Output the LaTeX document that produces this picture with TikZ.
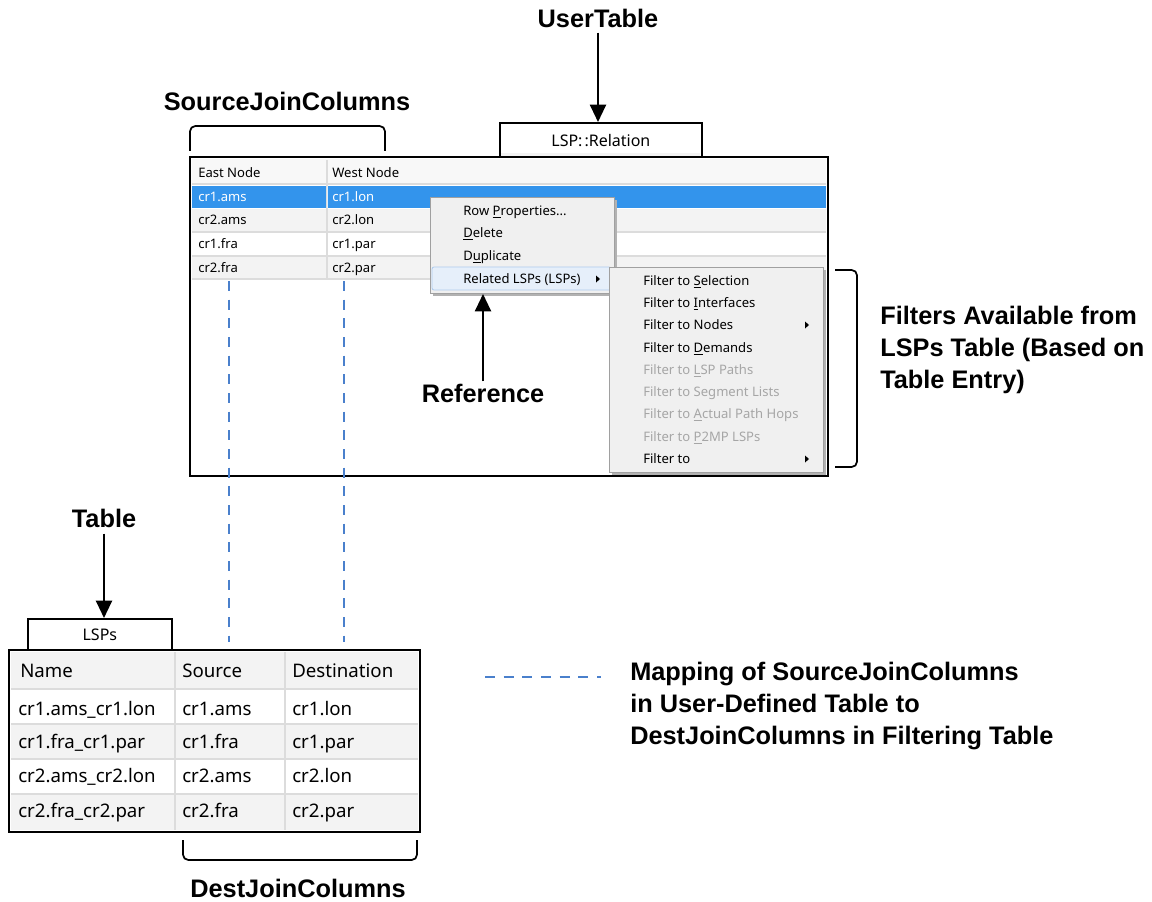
\documentclass[tikz,border=0pt]{standalone}
\usepackage{fontspec}
\setmainfont{Liberation Sans}
\newfontfamily\uifont{Noto Sans}
\usetikzlibrary{arrows.meta}
\definecolor{selblue}{HTML}{3394EC}
\definecolor{menubg}{HTML}{F0F0F0}
\definecolor{menuline}{HTML}{A0A0A0}
\definecolor{hilite}{HTML}{E6EFFA}
\definecolor{hiline}{HTML}{AECBEE}
\definecolor{greytext}{HTML}{A6A6A6}
\definecolor{rowgrey}{HTML}{F3F3F3}
\definecolor{sepgrey}{HTML}{DCDCDC}
\definecolor{mapblue}{HTML}{4A80CC}
\newcommand\acc[1]{\underline{#1}}
\begin{document}
\begin{tikzpicture}[x=0.75pt,y=-0.75pt,
  lbl/.style={font=\bfseries\fontsize{19}{24}\selectfont, inner sep=0pt},
  lbll/.style={lbl, anchor=west, align=left},
  uit/.style={font=\uifont\fontsize{9.8}{11}\selectfont, anchor=base west, inner sep=0pt},
  tbt/.style={font=\uifont\fontsize{14}{16}\selectfont, anchor=base west, inner sep=0pt},
  arr/.style={line width=1.6pt, -{Triangle[width=12pt,length=13pt]}},
  brk/.style={line width=1.3pt, rounded corners=4pt},
  mapline/.style={draw=mapblue, line width=1.3pt, dash pattern=on 7.5pt off 6.5pt},
  frame/.style={draw=black, line width=1.5pt},
  tab/.style={draw=black, line width=1.3pt, fill=white},
  menu/.style={fill=menubg, draw=menuline, line width=0.6pt},
  shadow/.style={fill=black!30, draw=none},
  sep/.style={draw=sepgrey, line width=0.8pt}
]
\useasboundingbox (0,0) rectangle (1152,902);

% ---------- top labels ----------
\node[lbl] (usertable) at (598,18) {UserTable};
\node[lbl] (sjc) at (287,101) {SourceJoinColumns};

% ---------- LSP::Relation tab ----------
\node[tab, minimum width=202*0.75pt, minimum height=36*0.75pt, anchor=north west,
      inner sep=0pt, font=\uifont\fontsize{12}{13}\selectfont] (reltab) at (499,122) {LSP:\kern1.5pt:Relation};
\fill[rowgrey] (500.5,153) rectangle (699.5,157);

% ---------- main window ----------
\path[frame, fill=white] (190,157) rectangle (828,476);
\fill[rowgrey!60] (192,159) rectangle (826,184);
\draw[sep] (192,184) -- (826,184);
\fill[selblue] (192,186) rectangle (826,208);
\fill[rowgrey] (192,209) rectangle (826,232);
\fill[rowgrey] (192,257) rectangle (826,279);
\draw[sep] (192,232) -- (826,232);
\draw[sep] (192,256) -- (826,256);
\draw[sep] (192,279) -- (826,279);
\draw[sep] (327,160) -- (327,279);
\draw[white!85!selblue] (327,186) -- (327,208);

\node[uit] (hEast) at (198,177.5) {East Node};
\node[uit] (hWest) at (332,177.5) {West Node};
\node[uit, text=white] (r1a) at (198,201.5) {cr1.ams};
\node[uit, text=white] (r1b) at (332,201.5) {cr1.lon};
\node[uit] (r2a) at (198,224.5) {cr2.ams};
\node[uit] (r2b) at (332,224.5) {cr2.lon};
\node[uit] (r3a) at (198,248.5) {cr1.fra};
\node[uit] (r3b) at (332,248.5) {cr1.par};
\node[uit] (r4a) at (198,272.5) {cr2.fra};
\node[uit] (r4b) at (332,272.5) {cr2.par};

% ---------- SourceJoinColumns bracket ----------
\draw[brk] (190,151) -- (190,126) -- (385,126) -- (385,151);

% ---------- context menu ----------
\path[shadow] (433,200) rectangle (617,296);
\path[menu] (430,197) rectangle (614,293);
\path[fill=hilite, draw=hiline, line width=0.6pt, rounded corners=1.5pt] (432,267) rectangle (611,290);
\node[uit] (m1) at (463,215.5) {Row \acc{P}roperties...};
\node[uit] (m2) at (463,237.5) {\acc{D}elete};
\node[uit] (m3) at (463,260.5) {D\acc{u}plicate};
\node[uit] (m4) at (463,283.5) {Related LSPs (LSPs)};
\fill (596,275.5) -- (600,279) -- (596,282.5) -- cycle;

% ---------- submenu ----------
\path[shadow] (612,270) rectangle (826,475);
\path[menu] (609,267) rectangle (823,472);
\node[uit] (f1) at (643,285.5) {Filter to \acc{S}election};
\node[uit] (f2) at (643,307.5) {Filter to \acc{I}nterfaces};
\node[uit] (f3) at (643,329.5) {Filter to Nodes};
\node[uit] (f4) at (643,352.5) {Filter to \acc{D}emands};
\node[uit, text=greytext] (f5) at (643,374.5) {Filter to \acc{L}SP Paths};
\node[uit, text=greytext] (f6) at (643,396.5) {Filter to Segment Lists};
\node[uit, text=greytext] (f7) at (643,418.5) {Filter to \acc{A}ctual Path Hops};
\node[uit, text=greytext] (f8) at (643,441.5) {Filter to \acc{P}2MP LSPs};
\node[uit] (f9) at (643,463.5) {Filter to};
\fill (805,321.5) -- (809,325) -- (805,328.5) -- cycle;
\fill (805,455.5) -- (809,459) -- (805,462.5) -- cycle;

% ---------- Reference ----------
\node[lbl] (reference) at (483,393) {Reference};
\coordinate (menuref) at (483,294);
\draw[arr] (reference.north) ++(0,-2) -- (menuref);

% ---------- UserTable arrow ----------
\draw[arr] (usertable.south) ++(0,5) -- (usertable.south |- reltab.north);

% ---------- Filters bracket & label ----------
\draw[brk] (835,270) -- (857,270) -- (857,467) -- (835,467);
\node[lbll] (filters) at (880,350) {Filters Available from\\[0pt]LSPs Table (Based on\\[0pt]Table Entry)};

% ---------- Table label ----------
\node[lbl] (tablelbl) at (104,518) {Table};

% ---------- LSPs tab ----------
\node[tab, minimum width=144*0.75pt, minimum height=32*0.75pt, anchor=north west,
      inner sep=0pt, font=\uifont\fontsize{12}{13}\selectfont] (lsptab) at (27,618) {LSPs};
\draw[arr] (tablelbl.south) ++(0,6) -- (tablelbl.south |- lsptab.north);

% ---------- bottom table ----------
\path[frame, fill=white] (9,650) rectangle (420,832);
\fill[rowgrey] (11,652) rectangle (418,688);
\fill[rowgrey] (11,725) rectangle (418,758);
\fill[rowgrey] (11,795) rectangle (418,830);
\draw[sep] (11,689) -- (418,689);
\draw[sep] (11,724) -- (418,724);
\draw[sep] (11,759) -- (418,759);
\draw[sep] (11,794) -- (418,794);
\draw[sep, line width=1.2pt] (175,652) -- (175,830);
\draw[sep, line width=1.2pt] (285,652) -- (285,830);

\node[tbt] (bName) at (20,677) {Name};
\node[tbt] (bSrc) at (182,677) {Source};
\node[tbt] (bDst) at (292,677) {Destination};
\node[tbt] (b1a) at (18,715) {cr1.ams\_cr1.lon};
\node[tbt] (b1b) at (182,715) {cr1.ams};
\node[tbt] (b1c) at (292,715) {cr1.lon};
\node[tbt] (b2a) at (18,748) {cr1.fra\_cr1.par};
\node[tbt] (b2b) at (182,748) {cr1.fra};
\node[tbt] (b2c) at (292,748) {cr1.par};
\node[tbt] (b3a) at (18,782) {cr2.ams\_cr2.lon};
\node[tbt] (b3b) at (182,782) {cr2.ams};
\node[tbt] (b3c) at (292,782) {cr2.lon};
\node[tbt] (b4a) at (18,817) {cr2.fra\_cr2.par};
\node[tbt] (b4b) at (182,817) {cr2.fra};
\node[tbt] (b4c) at (292,817) {cr2.par};

% ---------- DestJoinColumns bracket ----------
\draw[brk] (183,840) -- (183,860) -- (417,860) -- (417,840);
\node[lbl] (djc) at (298,888) {DestJoinColumns};

% ---------- mapping lines ----------
\coordinate (s1) at (229,281);
\coordinate (d1) at (229,642);
\coordinate (s2) at (344,281);
\coordinate (d2) at (344,642);
\draw[mapline] (s1) -- (d1);
\draw[mapline] (s2) -- (d2);

% ---------- legend ----------
\coordinate (lg1) at (485,677);
\coordinate (lg2) at (601,677);
\draw[mapline] (lg1) -- (lg2);
\node[lbll] (legend) at (630,706) {Mapping of SourceJoinColumns\\[0pt]in User-Defined Table to\\[0pt]DestJoinColumns in Filtering Table};
\end{tikzpicture}
\end{document}
